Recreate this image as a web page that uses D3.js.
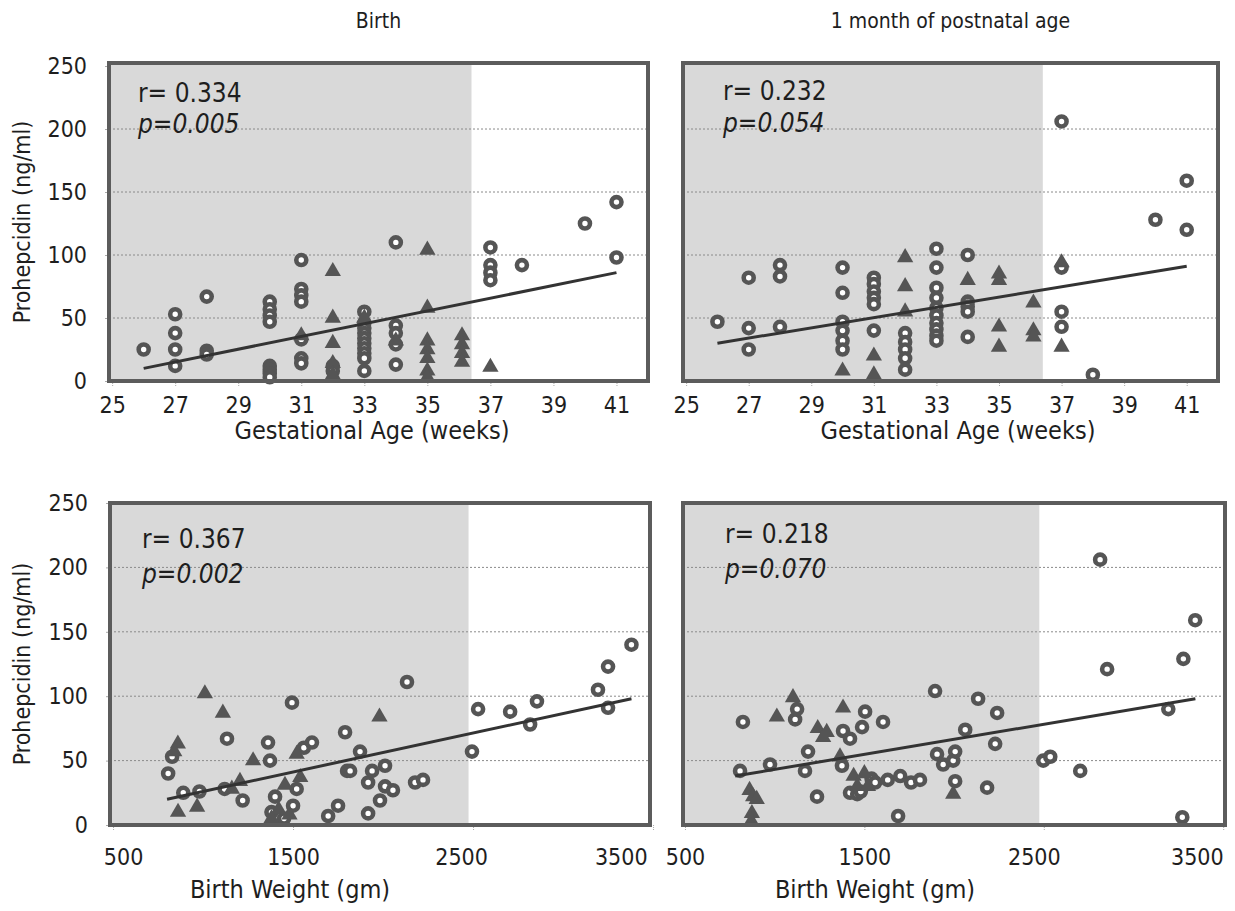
<!DOCTYPE html>
<html>
<head>
<style>
  body { margin: 0; background: #fff; }
  text { font-family: "DejaVu Sans Condensed", "DejaVu Sans", sans-serif; fill: #1e1e1e; }
</style>
<script src="https://d3js.org/d3.v7.min.js"></script>
</head>
<body>
<svg width="1235" height="911"></svg>
<script>
// ---- data ----
var gaTicks = [25, 27, 29, 31, 33, 35, 37, 39, 41];
var bwTicks = [500, 1500, 2500, 3500];
var yTicks = [0, 50, 100, 150, 200, 250];
var gridValues = [50, 100, 150, 200];
var columnTitles = ["Birth", "1 month of postnatal age"];
var rLabels = ["r= 0.334", "r= 0.232", "r= 0.367", "r= 0.218"];
var pLabels = ["p=0.005", "p=0.054", "p=0.002", "p=0.070"];
var shadeLimits = [36.4, 36.4, 2475, 2475];

var birthGaRings = [[26,25],[27,53],[27,38],[27,25],[27,12],[28,67],[28,24],[28,21],
  [30,63],[30,57],[30,52],[30,47],[30,12],[30,9],[30,6],[30,3],
  [31,96],[31,73],[31,68],[31,63],[31,33],[31,18],[31,14],[32,12],[32,8],
  [33,55],[33,46],[33,42],[33,38],[33,34],[33,30],[33,26],[33,22],[33,18],[33,8],
  [34,110],[34,44],[34,38],[34,29],[34,13],[37,106],[37,92],[37,86],[37,80],
  [38,92],[40,125],[41,142],[41,98]];
var birthGaTriangles = [[31,36],[32,87],[32,50],[32,30],[32,14],[32,5],[33,50],[34,32],
  [35,104],[35,58],[35,32],[35,25],[35,18],[35,8],[35,3],
  [36.1,36],[36.1,29],[36.1,22],[36.1,15],[37,11]];
var birthGaTrend = [[26,10],[41,86]];

var monthGaRings = [[26,47],[27,82],[27,42],[27,25],[28,92],[28,83],[28,43],
  [30,90],[30,70],[30,47],[30,40],[30,32],[30,25],
  [31,82],[31,77],[31,71],[31,66],[31,61],[31,40],[32,38],[32,31],[32,25],[32,18],[32,9],
  [33,105],[33,90],[33,74],[33,66],[33,58],[33,52],[33,46],[33,41],[33,36],[33,32],
  [34,100],[34,63],[34,59],[34,55],[34,35],[37,206],[37,90],[37,55],[37,43],
  [38,5],[40,128],[41,159],[41,120]];
var monthGaTriangles = [[30,8],[31,20],[31,5],[32,98],[32,75],[32,55],[34,80],
  [35,85],[35,80],[35,43],[35,27],[36.1,62],[36.1,40],[36.1,35],[37,94],[37,27]];
var monthGaTrend = [[26,30],[41,91]];

var birthBwRings = [[806,40],[828,53],[890,25],[980,26],[1120,28],[1133,67],[1220,19],
  [1361,64],[1372,50],[1400,22],[1494,95],[1560,60],[1605,64],[1520,28],[1380,10],
  [1450,5],[1500,15],[1695,7],[1750,15],[1789,72],[1800,42],[1817,42],[1872,57],
  [1917,33],[1939,42],[2011,46],[2011,30],[2055,27],[1983,19],[1917,9],[2178,33],
  [2222,35],[2133,111],[2494,57],[2528,90],[2706,88],[2817,78],[2855,96],[3194,105],
  [3250,123],[3250,91],[3380,140]];
var birthBwTriangles = [[860,63],[840,57],[1010,102],[1110,87],[861,10],[967,14],
  [1205,34],[1160,28],[1278,50],[1420,12],[1380,5],[1480,8],[1455,31],[1540,37],
  [1520,55],[1980,84]];
var birthBwTrend = [[800,20],[3380,98]];

var monthBwRings = [[807,42],[823,80],[974,47],[1114,82],[1125,90],[1169,42],[1186,57],
  [1236,22],[1375,46],[1381,73],[1420,67],[1420,25],[1460,24],[1480,26],[1487,76],
  [1504,88],[1540,36],[1560,33],[1604,80],[1630,35],[1688,7],[1700,38],[1760,33],
  [1810,35],[1894,104],[1905,55],[1939,47],[1995,50],[2006,57],[2006,34],[2062,74],
  [2134,98],[2184,29],[2229,63],[2240,87],[2497,50],[2536,53],[2703,42],[2814,206],
  [2853,121],[3194,90],[3272,6],[3278,129],[3344,159]];
var monthBwTriangles = [[860,27],[880,22],[900,20],[873,9],[870,3],[1012,84],[1102,99],
  [1240,75],[1270,68],[1290,72],[1364,53],[1381,91],[1440,38],[1460,30],[1500,40],
  [1520,30],[1995,24]];
var monthBwTrend = [[780,38],[3345,98]];

// ---- layout ----
var panels = [
  { rings: birthGaRings, tris: birthGaTriangles, trend: birthGaTrend,
    left: 109, right: 648, top: 63, bottom: 381, xDomain: [24.9, 42], yMax: 252.4,
    ticks: gaTicks, xTitle: "Gestational Age (weeks)", titleX: 372, textX: 138, rY: 102, pY: 133 },
  { rings: monthGaRings, tris: monthGaTriangles, trend: monthGaTrend,
    left: 683, right: 1218, top: 63, bottom: 381, xDomain: [24.9, 42], yMax: 252.4,
    ticks: gaTicks, xTitle: "Gestational Age (weeks)", titleX: 958, textX: 723, rY: 100, pY: 132 },
  { rings: birthBwRings, tris: birthBwTriangles, trend: birthBwTrend,
    left: 110, right: 650, top: 503, bottom: 825, xDomain: [483, 3483], yMax: 250,
    ticks: bwTicks, xTitle: "Birth Weight (gm)", titleX: 290, textX: 142, rY: 548, pY: 583 },
  { rings: monthBwRings, tris: monthBwTriangles, trend: monthBwTrend,
    left: 683, right: 1225, top: 503, bottom: 825, xDomain: [489, 3510], yMax: 250,
    ticks: bwTicks, xTitle: "Birth Weight (gm)", titleX: 875, textX: 725, rY: 543, pY: 578 }
];

var svg = d3.select("svg");
var markColor = "#555";

panels.forEach(function (p, i) {
  var x = d3.scaleLinear().domain(p.xDomain).range([p.left, p.right]);
  var y = d3.scaleLinear().domain([0, p.yMax]).range([p.bottom, p.top]);
  var g = svg.append("g");

  g.append("rect")
    .attr("x", p.left).attr("y", p.top)
    .attr("width", p.right - p.left).attr("height", p.bottom - p.top)
    .attr("fill", "#fff");

  g.append("rect")
    .attr("x", p.left).attr("y", p.top)
    .attr("width", x(shadeLimits[i]) - p.left).attr("height", p.bottom - p.top)
    .attr("fill", "#d9d9d9");

  g.selectAll(".grid")
    .data(gridValues)
    .enter()
    .append("line")
    .attr("x1", p.left).attr("x2", p.right)
    .attr("y1", function (d) { return y(d); })
    .attr("y2", function (d) { return y(d); })
    .attr("stroke", "#8a8a8a")
    .attr("stroke-width", 1)
    .attr("stroke-dasharray", "2,2");

  // x axis
  var xa = g.append("g")
    .attr("transform", "translate(0," + p.bottom + ")")
    .call(d3.axisBottom(x).tickValues(p.ticks).tickSize(5).tickFormat(function (d) { return d; }));
  xa.select(".domain").remove();
  xa.selectAll("line").attr("stroke", "#aaa").attr("stroke-dasharray", "1,1");
  xa.selectAll("text")
    .attr("y", i < 2 ? 32 : 40).attr("dy", null)
    .style("font-size", "23px")
    .style("font-family", '"DejaVu Sans Condensed", sans-serif')
    .attr("fill", "#1e1e1e");
  if (i >= 2) {
    var labels = xa.selectAll("text");
    var n = labels.size();
    labels.filter(function (d, j) { return j === n - 1; })
      .attr("text-anchor", "end").attr("dx", i === 2 ? -6 : 0);
    if (i === 2) {
      labels.filter(function (d, j) { return j === 0; }).attr("dx", 10);
      labels.filter(function (d, j) { return j === 2; }).attr("dx", -12);
    } else {
      labels.filter(function (d, j) { return j === 2; }).attr("dx", -10);
    }
  }

  // y axis labels on the left column
  if (i % 2 === 0) {
    var ya = g.append("g")
      .attr("transform", "translate(" + p.left + ",0)")
      .call(d3.axisLeft(y).tickValues(yTicks).tickSize(4).tickPadding(18));
    ya.select(".domain").remove();
    ya.selectAll("line").attr("stroke", "#aaa");
    ya.selectAll("text")
      .style("font-size", "23px")
      .style("font-family", '"DejaVu Sans Condensed", sans-serif')
      .attr("fill", "#1e1e1e");

    g.append("text")
      .attr("transform", "translate(30," + (p.top + p.bottom) / 2 + ") rotate(-90)")
      .attr("text-anchor", "middle")
      .style("font-size", "23px")
      .text("Prohepcidin (ng/ml)");
  }

  g.append("text")
    .attr("x", p.titleX)
    .attr("y", i < 2 ? 439 : 898)
    .attr("text-anchor", "middle")
    .style("font-size", "25px")
    .text(p.xTitle);

  // markers
  g.selectAll(".ring")
    .data(p.rings)
    .enter()
    .append("circle")
    .attr("cx", function (d) { return x(d[0]); })
    .attr("cy", function (d) { return y(d[1]); })
    .attr("r", 5)
    .attr("fill", "#fff")
    .attr("stroke", markColor)
    .attr("stroke-width", 4.6);

  g.selectAll(".tri")
    .data(p.tris)
    .enter()
    .append("path")
    .attr("d", d3.symbol(d3.symbolTriangle, 115))
    .attr("transform", function (d) { return "translate(" + x(d[0]) + "," + y(d[1]) + ")"; })
    .attr("fill", markColor);

  g.append("path")
    .datum(p.trend)
    .attr("d", d3.line().x(function (d) { return x(d[0]); }).y(function (d) { return y(d[1]); }))
    .attr("stroke", "#333")
    .attr("stroke-width", 3)
    .attr("fill", "none");

  g.append("text")
    .attr("x", p.textX).attr("y", p.rY)
    .style("font-size", "26px")
    .text(rLabels[i]);
  g.append("text")
    .attr("x", p.textX).attr("y", p.pY)
    .style("font-size", "26px")
    .style("font-style", "italic")
    .text(pLabels[i]);

  // frame
  g.append("rect")
    .attr("x", p.left).attr("y", p.top)
    .attr("width", p.right - p.left).attr("height", p.bottom - p.top)
    .attr("fill", "none")
    .attr("stroke", "#5c5c5c")
    .attr("stroke-width", 4);
});

svg.selectAll(".coltitle")
  .data(columnTitles)
  .enter()
  .append("text")
  .attr("x", function (d, i) { return (panels[i].left + panels[i].right) / 2; })
  .attr("y", 28)
  .attr("text-anchor", "middle")
  .style("font-size", "21px")
  .text(function (d) { return d; });
</script>
</body>
</html>
